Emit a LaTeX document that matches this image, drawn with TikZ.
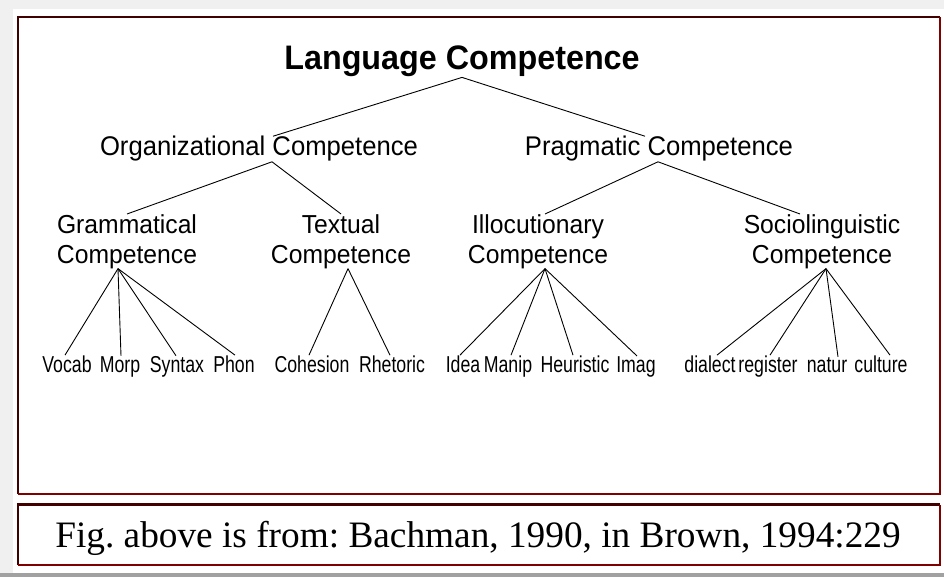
\documentclass[tikz,border=0pt]{standalone}
\usepackage{fontspec}
\setmainfont{Liberation Serif}
\newfontfamily\treefont[FakeStretch=0.95]{Liberation Sans}
\newfontfamily\leaffont[FakeStretch=0.77]{Liberation Sans}
\usepackage{xcolor}
\usepackage{tikz}
\usetikzlibrary{positioning,calc}
\definecolor{rimred}{RGB}{128,0,0}
\definecolor{rimdark}{RGB}{64,0,0}

\begin{document}
\begin{tikzpicture}[
    x=1pt, y=-1pt,
    root/.style={inner sep=0pt, anchor=base, font=\treefont\bfseries\fontsize{34}{38}\selectfont},
    mid/.style={inner sep=0pt, anchor=base, font=\treefont\fontsize{27}{30}\selectfont},
    sub/.style={inner sep=0pt, anchor=north, align=center, font=\treefont\fontsize{26}{30}\selectfont},
    leaf/.style={inner sep=0pt, anchor=base, font=\leaffont\fontsize{23}{26}\selectfont},
    caption/.style={inner sep=0pt, anchor=base, font=\frenchspacing\fontsize{37.3}{40}\selectfont},
    branch/.style={draw=black, line width=0.9pt},
    rim/.style={line width=2.4pt}
]
\useasboundingbox (0,0) rectangle (944,577);
\fill[black!6] (0,0) rectangle (944,577);
\fill[white] (13,9) rectangle (944,573);
\fill[black!37] (0,573) rectangle (944,577);

% framed panels
\draw[rim, rimdark] (18,494) |- (940,17);
\draw[rim, rimred]  (18,494) -| (940,17);
\draw[rim, rimdark] (18,565) |- (940,504.5);
\draw[rim, rimred]  (18,565) -| (940,504.5);

\node[root] (lang) at (462,70) {Language Competence};

\node[mid] (org)  at (259,156) {Organizational Competence};
\node[mid] (prag) at (659,156) {Pragmatic Competence};
\draw[branch] (lang.south) -- ([xshift=14pt]org.north);
\draw[branch] (lang.south) -- ([xshift=-14pt]prag.north);

\node[sub] (gram)  at (127,214) {Grammatical\\Competence};
\node[sub] (text)  at (341,214) {Textual\\Competence};
\node[sub] (illo)  at (538,214) {Illocutionary\\Competence};
\node[sub] (socio) at (822,214) {Sociolinguistic\\Competence};
\draw[branch] ([xshift=13pt]org.south) -- (gram.north);
\draw[branch] ([xshift=13pt]org.south) -- (text.north);
\draw[branch] ([xshift=-1pt]prag.south) -- ([xshift=7pt]illo.north);
\draw[branch] ([xshift=-1pt]prag.south) -- ([xshift=-22pt]socio.north);

\foreach \leaf/\x/\dx in {Vocab/67/-2, Morp/120/1, Syntax/177/-1, Phon/234/1} {
    \node[leaf] (\leaf) at (\x,372) {\leaf};
    \draw[branch] ([xshift=-9pt]gram.south) -- ([xshift=\dx pt]\leaf.north);
}
\foreach \leaf/\x/\dx in {Cohesion/312/-3, Rhetoric/392/-2} {
    \node[leaf] (\leaf) at (\x,372) {\leaf};
    \draw[branch] ([xshift=7pt]text.south) -- ([xshift=\dx pt]\leaf.north);
}
\foreach \leaf/\x/\dx in {Idea/463/-3, Manip/508/3, Heuristic/575/-2, Imag/636/1} {
    \node[leaf] (\leaf) at (\x,372) {\leaf};
    \draw[branch] ([xshift=7pt]illo.south) -- ([xshift=\dx pt]\leaf.north);
}
\foreach \leaf/\x/\dx in {dialect/710/7, register/768/2, natur/827/11, culture/881/9} {
    \node[leaf] (\leaf) at (\x,372) {\leaf};
    \draw[branch] ([xshift=4pt]socio.south) -- ([xshift=\dx pt]\leaf.north);
}

\node[caption] (src) at (478,547) {Fig. above is from: Bachman, 1990, in Brown, 1994:229};
\end{tikzpicture}
\end{document}
